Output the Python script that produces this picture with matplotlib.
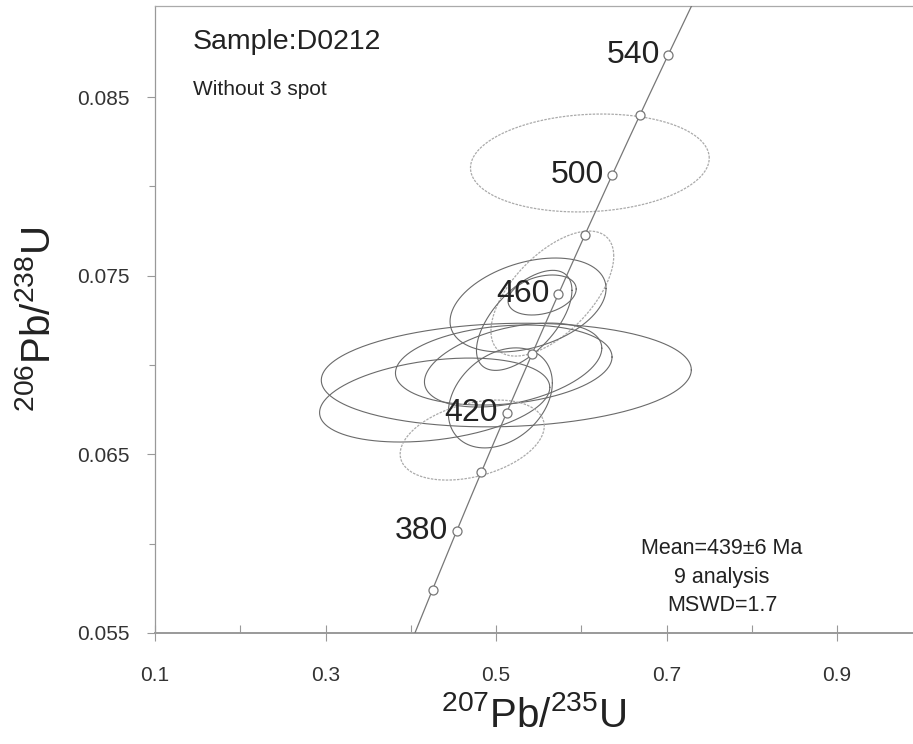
import numpy as np
import matplotlib

matplotlib.use("Agg")
import matplotlib.pyplot as plt

plt.rcParams["font.family"] = ["Liberation Sans", "DejaVu Sans"]
plt.rcParams["mathtext.default"] = "regular"

# decay constants (1/yr)
L238 = 1.55125e-10
L235 = 9.8485e-10

# concordia age marks (Ma)
mark_ages = [360, 380, 400, 420, 440, 460, 480, 500, 520, 540]
label_ages = [380, 420, 460, 500, 540]

# analyses: 207Pb/235U, half-width, 206Pb/238U, half-height, rho
ell_x = [0.610, 0.566, 0.5375, 0.554, 0.533, 0.512, 0.428, 0.509, 0.520, 0.505, 0.472]
ell_sx = [0.140, 0.072, 0.0915, 0.040, 0.056, 0.217, 0.135, 0.127, 0.104, 0.061, 0.0845]
ell_y = [0.08131, 0.0740, 0.07336, 0.07392, 0.0725, 0.06944, 0.06804, 0.0700, 0.0700, 0.06816, 0.0658]
ell_sy = [0.00274, 0.0035, 0.00263, 0.00112, 0.0028, 0.0029, 0.00235, 0.00224, 0.00235, 0.0028, 0.00224]
ell_rho = [0.1, 0.6, 0.35, 0.3, 0.6, 0.1, 0.3, 0.2, 0.4, 0.3, 0.35]
ell_light = [True, True, False, False, False, False, False, False, False, False, True]

x_ticks = [0.1, 0.3, 0.5, 0.7, 0.9]
y_ticks = [0.055, 0.065, 0.075, 0.085]

fig = plt.figure(figsize=(9.13, 7.44), dpi=100)
ax = fig.add_axes([0.1698, 0.1492, 0.8302, 0.8428])

# concordia curve
t = np.linspace(330, 570, 500) * 1e6
ax.plot(np.expm1(L235 * t), np.expm1(L238 * t), color="#777777", lw=0.9, zorder=3)

mt = np.array(mark_ages) * 1e6
ax.plot(np.expm1(L235 * mt), np.expm1(L238 * mt), "o", ms=6.5, mfc="white",
        mec="#777777", mew=0.9, zorder=4)
for a in label_ages:
    ta = a * 1e6
    ax.annotate(str(a), (np.expm1(L235 * ta), np.expm1(L238 * ta)),
                xytext=(-6, 0), textcoords="offset points", ha="right", va="center",
                fontsize=23, color="#222222", zorder=5)

# error ellipses
th = np.linspace(0, 2 * np.pi, 300)
for cx, sx, cy, sy, r, light in zip(ell_x, ell_sx, ell_y, ell_sy, ell_rho, ell_light):
    ex = cx + sx * np.cos(th)
    ey = cy + sy * (r * np.cos(th) + np.sqrt(1 - r * r) * np.sin(th))
    if light:
        ax.plot(ex, ey, color="#aaaaaa", lw=0.9, ls=(0, (2, 1)), zorder=2)
    else:
        ax.plot(ex, ey, color="#6a6a6a", lw=0.8, zorder=2)

ax.set_xlim(0.1, 0.989)
ax.set_ylim(0.055, 0.0901)
ax.set_xticks(x_ticks)
ax.set_xticklabels([f"{v:.1f}" for v in x_ticks])
ax.set_xticks(np.arange(0.2, 0.9, 0.2), minor=True)
ax.set_yticks(y_ticks)
ax.set_yticklabels([f"{v:.3f}" for v in y_ticks])
ax.set_yticks([0.060, 0.070, 0.080], minor=True)

ax.spines["right"].set_visible(False)
for s in ["left", "bottom", "top"]:
    ax.spines[s].set_color("#999999")
    ax.spines[s].set_linewidth(0.9)
ax.spines["top"].set_linestyle((0, (2, 1)))
ax.spines["top"].set_color("#aaaaaa")
ax.spines["bottom"].set_linewidth(1.4)

ax.tick_params(axis="x", which="major", direction="inout", length=12, width=0.8,
               color="#999999", labelsize=15, pad=18, labelcolor="#333333")
ax.tick_params(axis="x", which="minor", direction="in", length=6, width=0.8, color="#999999")
ax.tick_params(axis="y", which="major", direction="out", length=6, width=0.8,
               color="#999999", labelsize=15, pad=12, labelcolor="#333333")
ax.tick_params(axis="y", which="minor", direction="out", length=4, width=0.8, color="#999999")

ax.set_xlabel("$^{207}$Pb/$^{235}$U", fontsize=29, color="#222222", labelpad=8)
ax.set_ylabel("$^{206}$Pb/$^{238}$U", fontsize=29, color="#222222", labelpad=14)

ax.text(0.05, 0.943, "Sample:D0212", transform=ax.transAxes, fontsize=20.5,
        color="#222222", ha="left", va="center")
ax.text(0.05, 0.866, "Without 3 spot", transform=ax.transAxes, fontsize=15,
        color="#222222", ha="left", va="center")
ax.text(0.748, 0.089, "Mean=439\u00b16 Ma\n9 analysis\nMSWD=1.7", transform=ax.transAxes,
        fontsize=15.5, color="#222222", ha="center", va="center", linespacing=1.45)

fig.savefig("out.png", dpi=100)
plt.close(fig)
